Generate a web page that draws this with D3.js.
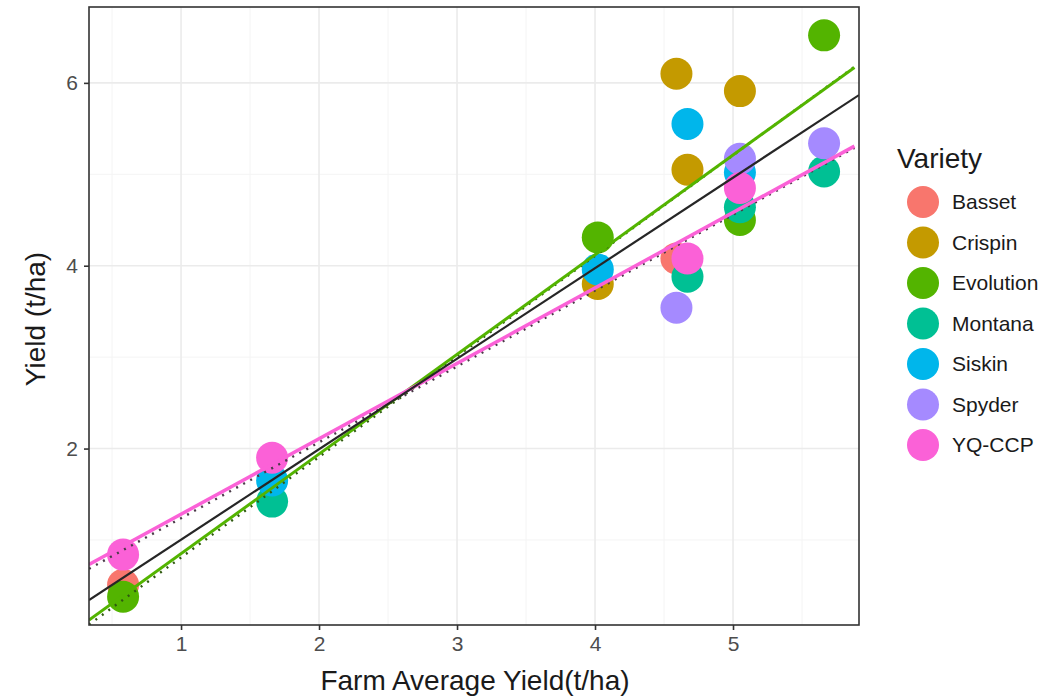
<!DOCTYPE html>
<html>
<head>
<meta charset="utf-8">
<script src="https://cdn.jsdelivr.net/npm/d3@7"></script>
<style>
  body { margin: 0; background: #fff; }
  text { font-family: "Liberation Sans", Arial, sans-serif; }
</style>
</head>
<body>
<svg id="chart"></svg>
<script>
// varieties and their ggplot hue colours
const varieties = ["Basset", "Crispin", "Evolution", "Montana", "Siskin", "Spyder", "YQ-CCP"];
const varietyColors = ["#F8766D", "#C49A00", "#53B400", "#00C094", "#00B6EB", "#A58AFF", "#FB61D7"];

// one entry per plotted point (drawn in this order, alphabetical by variety)
const pointFarm    = [0.58, 4.59, 4.59, 4.02, 4.67, 5.05, 0.58, 4.02, 5.05, 5.66, 1.66, 4.67, 5.05, 5.66, 1.66, 4.02, 4.67, 5.05, 4.59, 5.05, 5.66, 0.58, 1.66, 4.67, 5.05];
const pointVariety = ["Basset", "Basset", "Crispin", "Crispin", "Crispin", "Crispin", "Evolution", "Evolution", "Evolution", "Evolution", "Montana", "Montana", "Montana", "Montana", "Siskin", "Siskin", "Siskin", "Siskin", "Spyder", "Spyder", "Spyder", "YQ-CCP", "YQ-CCP", "YQ-CCP", "YQ-CCP"];
const pointYield   = [0.51, 4.08, 6.10, 3.80, 5.05, 5.91, 0.38, 4.31, 4.50, 6.52, 1.42, 3.88, 4.64, 5.03, 1.65, 3.96, 5.55, 5.02, 3.54, 5.17, 5.34, 0.84, 1.90, 4.08, 4.85];

// fitted lines: intercept, slope
const fitNames      = ["Evolution dotted", "YQ-CCP dotted", "Evolution", "YQ-CCP", "All"];
const fitIntercepts = [-0.27, 0.43, -0.24, 0.457, 0.013];
const fitSlopes     = [1.10, 0.83, 1.09, 0.825, 0.99];

const xTicks = [1, 2, 3, 4, 5];
const yTicks = [2, 4, 6];
const xMinor = [0.5, 1.5, 2.5, 3.5, 4.5, 5.5];
const yMinor = [1, 3, 5];

const W = 1061, H = 696;
const margin = { top: 7, right: 202, bottom: 71, left: 89 };
const panelW = W - margin.left - margin.right;
const panelH = H - margin.top - margin.bottom;

const svg = d3.select("#chart").attr("width", W).attr("height", H);
svg.append("rect").attr("width", W).attr("height", H).attr("fill", "#fff");

const xScale = d3.scaleLinear().domain([0.333, 5.913]).range([0, panelW]);
const yScale = d3.scaleLinear().domain([0.07, 6.83]).range([panelH, 0]);
const color = d3.scaleOrdinal().domain(varieties).range(varietyColors);

const chart = svg.append("g").attr("transform", `translate(${margin.left},${margin.top})`);

chart.append("clipPath").attr("id", "panel-clip")
  .append("rect").attr("width", panelW).attr("height", panelH);

// grid
const grid = chart.append("g");
grid.selectAll(".xminor").data(xMinor).join("line")
  .attr("x1", d => xScale(d)).attr("x2", d => xScale(d))
  .attr("y1", 0).attr("y2", panelH)
  .attr("stroke", "#f4f4f4").attr("stroke-width", 1);
grid.selectAll(".yminor").data(yMinor).join("line")
  .attr("y1", d => yScale(d)).attr("y2", d => yScale(d))
  .attr("x1", 0).attr("x2", panelW)
  .attr("stroke", "#f4f4f4").attr("stroke-width", 1);
grid.selectAll(".xmajor").data(xTicks).join("line")
  .attr("x1", d => xScale(d)).attr("x2", d => xScale(d))
  .attr("y1", 0).attr("y2", panelH)
  .attr("stroke", "#ebebeb").attr("stroke-width", 1.6);
grid.selectAll(".ymajor").data(yTicks).join("line")
  .attr("y1", d => yScale(d)).attr("y2", d => yScale(d))
  .attr("x1", 0).attr("x2", panelW)
  .attr("stroke", "#ebebeb").attr("stroke-width", 1.6);

// points
const pts = pointFarm.map((f, i) => ({ farm: f, variety: pointVariety[i], yield: pointYield[i] }));
chart.append("g").attr("clip-path", "url(#panel-clip)")
  .selectAll("circle").data(pts).join("circle")
  .attr("cx", d => xScale(d.farm))
  .attr("cy", d => yScale(d.yield))
  .attr("r", 16)
  .attr("fill", d => color(d.variety));

// regression lines
const fits = fitNames.map((n, i) => ({ name: n, a: fitIntercepts[i], b: fitSlopes[i] }));
const fitStyle = {
  "Evolution dotted": { stroke: "#2f5a10", width: 2.4, dash: "2,6", dy: 2 },
  "YQ-CCP dotted":    { stroke: "#4a3a48", width: 2.4, dash: "2,6", dy: 2 },
  "Evolution":        { stroke: "#53B400", width: 3, dash: null, dy: 0 },
  "YQ-CCP":           { stroke: "#FB61D7", width: 3.5, dash: null, dy: 0 },
  "All":              { stroke: "#262626", width: 2.2, dash: null, dy: 0 }
};
const xd = [xScale.domain()[0], 5.88];
const line = d3.line().x(d => xScale(d[0])).y(d => yScale(d[1]));
chart.append("g").attr("clip-path", "url(#panel-clip)")
  .selectAll("path").data(fits).join("path")
  .attr("d", f => line((f.name === "All" ? xScale.domain() : xd).map(x => [x, f.a + f.b * x])))
  .attr("transform", f => `translate(0,${fitStyle[f.name].dy})`)
  .attr("fill", "none")
  .attr("stroke", f => fitStyle[f.name].stroke)
  .attr("stroke-width", f => fitStyle[f.name].width)
  .attr("stroke-dasharray", f => fitStyle[f.name].dash);

// panel border
chart.append("rect")
  .attr("width", panelW).attr("height", panelH)
  .attr("fill", "none").attr("stroke", "#333").attr("stroke-width", 1.6);

// axes
const xAxis = d3.axisBottom(xScale).tickValues(xTicks).tickSize(5).tickPadding(6).tickFormat(d3.format("d"));
const yAxis = d3.axisLeft(yScale).tickValues(yTicks).tickSize(5).tickPadding(6).tickFormat(d3.format("d"));

const xAxisG = chart.append("g").attr("transform", `translate(0,${panelH})`).call(xAxis);
const yAxisG = chart.append("g").call(yAxis);
[xAxisG, yAxisG].forEach(g => {
  g.select(".domain").remove();
  g.selectAll(".tick line").attr("stroke", "#333").attr("stroke-width", 1.6);
  g.selectAll(".tick text").attr("fill", "#4d4d4d").style("font-size", "21px");
});

// axis titles
svg.append("text")
  .attr("x", margin.left + panelW / 2 + 1).attr("y", 690)
  .attr("text-anchor", "middle").style("font-size", "28px").attr("fill", "#1a1a1a")
  .text("Farm Average Yield(t/ha)");
svg.append("text")
  .attr("transform", `translate(45,${margin.top + panelH / 2 + 3}) rotate(-90)`)
  .attr("text-anchor", "middle").style("font-size", "28px").attr("fill", "#1a1a1a")
  .text("Yield (t/ha)");

// legend
const legend = svg.append("g").attr("transform", "translate(897,0)");
legend.append("text").attr("x", 0).attr("y", 168)
  .style("font-size", "28px").attr("fill", "#1a1a1a").text("Variety");
const items = legend.selectAll(".item").data(varieties).join("g")
  .attr("transform", (d, i) => `translate(0,${202 + i * 40.5})`);
items.append("circle").attr("cx", 26).attr("cy", 0).attr("r", 16).attr("fill", d => color(d));
items.append("text").attr("x", 55).attr("y", 0).attr("dy", "0.35em")
  .style("font-size", "21px").attr("fill", "#1a1a1a").text(d => d);
</script>
</body>
</html>
